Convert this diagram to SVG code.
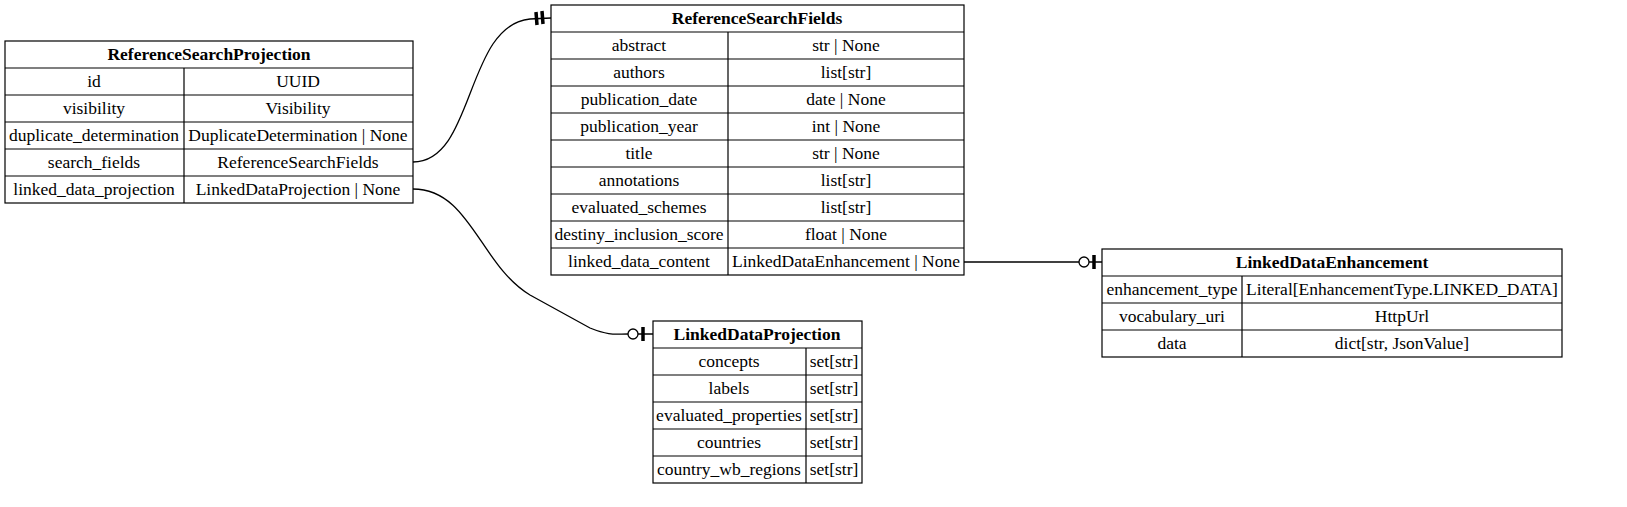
<svg xmlns="http://www.w3.org/2000/svg" width="1627" height="507" viewBox="0 0 1627 507">
<style>
text{font-family:"Liberation Serif",serif;font-size:17.5px;text-anchor:middle;fill:#000}
.h{font-weight:bold}
.b{fill:#fff;stroke:#000;stroke-width:1.2}
.l{stroke:#000;stroke-width:1.2;fill:none}
.c{fill:none;stroke:#000;stroke-width:1.3}
.bar{stroke:#000;stroke-width:3.5}
.o{fill:#fff;stroke:#000;stroke-width:1.3}
</style>
<rect width="1627" height="507" fill="#fff"/>
<g id="ReferenceSearchProjection">
<rect class="b" x="5" y="41" width="408" height="162"/>
<path class="l" d="M5,68H413M5,95H413M5,122H413M5,149H413M5,176H413M184,68V203"/>
<text class="h" x="209" y="60">ReferenceSearchProjection</text>
<text x="94" y="87">id</text><text x="298" y="87">UUID</text>
<text x="94" y="114">visibility</text><text x="298" y="114">Visibility</text>
<text x="94" y="141">duplicate_determination</text><text x="298" y="141">DuplicateDetermination | None</text>
<text x="94" y="168">search_fields</text><text x="298" y="168">ReferenceSearchFields</text>
<text x="94" y="195">linked_data_projection</text><text x="298" y="195">LinkedDataProjection | None</text>
</g>
<g id="ReferenceSearchFields">
<rect class="b" x="551" y="5" width="413" height="270"/>
<path class="l" d="M551,32H964M551,59H964M551,86H964M551,113H964M551,140H964M551,167H964M551,194H964M551,221H964M551,248H964M728,32V275"/>
<text class="h" x="757" y="24">ReferenceSearchFields</text>
<text x="639" y="51">abstract</text><text x="846" y="51">str | None</text>
<text x="639" y="78">authors</text><text x="846" y="78">list[str]</text>
<text x="639" y="105">publication_date</text><text x="846" y="105">date | None</text>
<text x="639" y="132">publication_year</text><text x="846" y="132">int | None</text>
<text x="639" y="159">title</text><text x="846" y="159">str | None</text>
<text x="639" y="186">annotations</text><text x="846" y="186">list[str]</text>
<text x="639" y="213">evaluated_schemes</text><text x="846" y="213">list[str]</text>
<text x="639" y="240">destiny_inclusion_score</text><text x="846" y="240">float | None</text>
<text x="639" y="267">linked_data_content</text><text x="846" y="267">LinkedDataEnhancement | None</text>
</g>
<g id="LinkedDataEnhancement">
<rect class="b" x="1102" y="249" width="460" height="108"/>
<path class="l" d="M1102,276H1562M1102,303H1562M1102,330H1562M1242,276V357"/>
<text class="h" x="1332" y="268">LinkedDataEnhancement</text>
<text x="1172" y="295">enhancement_type</text><text x="1402" y="295">Literal[EnhancementType.LINKED_DATA]</text>
<text x="1172" y="322">vocabulary_uri</text><text x="1402" y="322">HttpUrl</text>
<text x="1172" y="349">data</text><text x="1402" y="349">dict[str, JsonValue]</text>
</g>
<g id="LinkedDataProjection">
<rect class="b" x="653" y="321" width="209" height="162"/>
<path class="l" d="M653,348H862M653,375H862M653,402H862M653,429H862M653,456H862M806,348V483"/>
<text class="h" x="757" y="340">LinkedDataProjection</text>
<text x="729" y="367">concepts</text><text x="834" y="367">set[str]</text>
<text x="729" y="394">labels</text><text x="834" y="394">set[str]</text>
<text x="729" y="421">evaluated_properties</text><text x="834" y="421">set[str]</text>
<text x="729" y="448">countries</text><text x="834" y="448">set[str]</text>
<text x="729" y="475">country_wb_regions</text><text x="834" y="475">set[str]</text>
</g>
<g id="connectors">
<path class="c" d="M413,162C475,162 465,25 530,19L551,18"/>
<line class="bar" x1="536" y1="12" x2="537" y2="25"/>
<line class="bar" x1="542" y1="11" x2="543" y2="24"/>
<path class="c" d="M413,189C470,189 480,265 530,295L590,328C610,336 615,334 628,334L653,334"/>
<circle class="o" cx="633" cy="334" r="5"/>
<line class="bar" x1="643" y1="327" x2="643" y2="341"/>
<path class="c" d="M964,262H1102"/>
<circle class="o" cx="1084" cy="262" r="5"/>
<line class="bar" x1="1094" y1="255" x2="1094" y2="269"/>
</g>
</svg>
